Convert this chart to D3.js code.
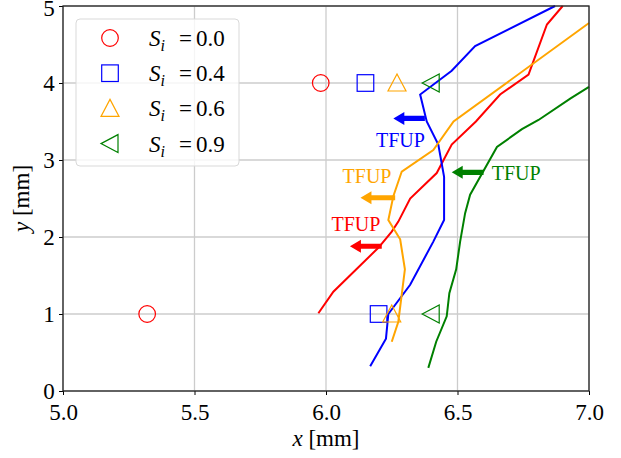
<!DOCTYPE html>
<html>
<head>
<meta charset="utf-8">
<script src="https://d3js.org/d3.v7.min.js"></script>
<style>
  body { margin: 0; background: #fff; }
  text { font-family: "Liberation Serif", "DejaVu Serif", serif; }
</style>
</head>
<body>
<div id="chart"></div>
<script>
var width = 621, height = 458
var margin = {top: 6, right: 32, bottom: 67, left: 63}

// markers at two heights
var markerSeries = [
  {si: "0.0", color: "red",    shape: "circle",   pts: [[5.32, 1], [5.98, 4]]},
  {si: "0.4", color: "blue",   shape: "square",   pts: [[6.20, 1], [6.15, 4]]},
  {si: "0.6", color: "orange", shape: "triangle", pts: [[6.25, 1], [6.27, 4]]},
  {si: "0.9", color: "green",  shape: "left",     pts: [[6.40, 1], [6.40, 4]]}
]

// flame front lines
var redLine = [[5.971,1.01],[6.028,1.29],[6.199,1.86],[6.25,2.07],[6.275,2.2],[6.32,2.5],
  [6.421,2.83],[6.478,3.2],[6.57,3.5],[6.662,3.85],[6.77,4.11],[6.84,4.76],[6.90,5.0]]
var blueLine = [[6.168,0.32],[6.228,0.68],[6.237,1.0],[6.32,1.38],[6.408,1.94],[6.449,2.22],
  [6.449,2.78],[6.427,3.2],[6.383,3.5],[6.358,3.85],[6.478,4.16],[6.567,4.48],[6.871,5.0]]
var orangeLine = [[6.25,0.64],[6.275,0.9],[6.30,1.58],[6.282,1.97],[6.237,2.22],[6.256,2.53],
  [6.288,2.85],[6.408,3.13],[6.485,3.5],[7.0,4.78]]
var greenLine = [[6.389,0.30],[6.419,0.64],[6.459,0.97],[6.469,1.27],[6.495,1.58],[6.51,1.94],
  [6.529,2.31],[6.548,2.55],[6.65,3.17],[6.745,3.40],[6.808,3.52],[6.93,3.8],[7.0,3.95]]

// TFUP labels and arrows: text x,y then arrow tail x, tip x, y
var tfup = [
  {color: "blue",   tx: 6.283, ty: 3.17, ax0: 6.376, ax1: 6.256, ay: 3.54},
  {color: "orange", tx: 6.156, ty: 2.70, ax0: 6.263, ax1: 6.131, ay: 2.51},
  {color: "red",    tx: 6.114, ty: 2.08, ax0: 6.212, ax1: 6.091, ay: 1.88},
  {color: "green",  tx: 6.723, ty: 2.74, ax0: 6.599, ax1: 6.478, ay: 2.84}
]

var xTicks = [5.0, 5.5, 6.0, 6.5, 7.0]
var yTicks = [0, 1, 2, 3, 4, 5]

var svg = d3.select("#chart").append("svg")
  .attr("width", width).attr("height", height)

var x = d3.scaleLinear().domain([5, 7]).range([margin.left, width - margin.right])
var y = d3.scaleLinear().domain([0, 5]).range([height - margin.bottom, margin.top])

// grid
svg.append("g").selectAll("line").data(xTicks).join("line")
  .attr("x1", d => x(d)).attr("x2", d => x(d))
  .attr("y1", y(0)).attr("y2", y(5))
  .attr("stroke", "#cccccc").attr("stroke-width", 1.3)
svg.append("g").selectAll("line").data(yTicks).join("line")
  .attr("x1", x(5)).attr("x2", x(7))
  .attr("y1", d => y(d)).attr("y2", d => y(d))
  .attr("stroke", "#cccccc").attr("stroke-width", 1.3)

var plot = svg.append("g")
var lineGen = d3.line().x(d => x(d[0])).y(d => y(d[1]))
var lines = [[redLine, "red"], [blueLine, "blue"], [orangeLine, "orange"], [greenLine, "green"]]
lines.forEach(function(l) {
  plot.append("path").datum(l[0]).attr("d", lineGen)
    .attr("fill", "none").attr("stroke", l[1]).attr("stroke-width", 2)
})

function drawMarker(g, shape, cx, cy, color) {
  if (shape == "circle") {
    g.append("circle").attr("cx", cx).attr("cy", cy).attr("r", 8.3)
  } else if (shape == "square") {
    g.append("rect").attr("x", cx - 8.3).attr("y", cy - 8.3).attr("width", 16.6).attr("height", 16.6)
  } else if (shape == "triangle") {
    g.append("path").attr("d", "M" + cx + "," + (cy - 9) + "L" + (cx + 9) + "," + (cy + 8) + "L" + (cx - 9) + "," + (cy + 8) + "Z")
  } else {
    g.append("path").attr("d", "M" + (cx - 9) + "," + cy + "L" + (cx + 8) + "," + (cy - 9) + "L" + (cx + 8) + "," + (cy + 9) + "Z")
  }
  g.selectAll("*").attr("fill", "none").attr("stroke", color).attr("stroke-width", 1.2)
}

markerSeries.forEach(function(s) {
  s.pts.forEach(function(p) {
    drawMarker(plot.append("g"), s.shape, x(p[0]), y(p[1]), s.color)
  })
})

// arrows + labels
tfup.forEach(function(t) {
  var x0 = x(t.ax0), x1 = x(t.ax1), yy = y(t.ay)
  var hl = 11, hw = 6.5, sw = 2.6
  var xb = x1 + hl
  plot.append("path")
    .attr("d", "M" + x0 + "," + (yy - sw) + "L" + xb + "," + (yy - sw) + "L" + xb + "," + (yy - hw) +
      "L" + x1 + "," + yy + "L" + xb + "," + (yy + hw) + "L" + xb + "," + (yy + sw) + "L" + x0 + "," + (yy + sw) + "Z")
    .attr("fill", t.color)
  plot.append("text").attr("x", x(t.tx)).attr("y", y(t.ty))
    .attr("text-anchor", "middle").attr("font-size", 20).attr("fill", t.color)
    .text("TFUP")
})

// axes
var xAxis = svg.append("g").attr("transform", "translate(0," + y(0) + ")")
  .call(d3.axisBottom(x).tickValues(xTicks).tickFormat(d3.format(".1f")).tickSizeOuter(0).tickSize(4))
var yAxis = svg.append("g").attr("transform", "translate(" + x(5) + ",0)")
  .call(d3.axisLeft(y).tickValues(yTicks).tickFormat(d3.format("d")).tickSizeOuter(0).tickSize(4))
;[xAxis, yAxis].forEach(function(a) {
  a.select(".domain").remove()
  a.selectAll("line").attr("stroke", "#000").attr("stroke-width", 1)
  a.selectAll("text").attr("font-family", "Liberation Serif").attr("font-size", 23).attr("fill", "#000")
})
xAxis.selectAll("text").attr("dy", "0.95em")
yAxis.selectAll("text").attr("dx", "-0.05em")
yAxis.selectAll(".tick").filter(d => d == 5).select("text").attr("dy", "0.42em")

svg.append("rect").attr("x", x(5)).attr("y", y(5))
  .attr("width", x(7) - x(5)).attr("height", y(0) - y(5))
  .attr("fill", "none").attr("stroke", "#222").attr("stroke-width", 1.3)

svg.append("text").attr("x", (x(5) + x(7)) / 2).attr("y", 446)
  .attr("text-anchor", "middle").attr("font-size", 23)
  .html('<tspan font-style="italic">x</tspan> [mm]')
svg.append("text").attr("transform", "translate(29," + ((y(0) + y(5)) / 2) + ") rotate(-90)")
  .attr("text-anchor", "middle").attr("font-size", 23)
  .html('<tspan font-style="italic">y</tspan> [mm]')

// legend
var leg = svg.append("g")
leg.append("rect").attr("x", 76).attr("y", 19).attr("width", 163).attr("height", 147)
  .attr("rx", 4).attr("fill", "white").attr("fill-opacity", 0.8)
  .attr("stroke", "#d9d9d9").attr("stroke-width", 1)
markerSeries.forEach(function(s, i) {
  var cy = 38 + i * 35.2
  drawMarker(leg.append("g"), s.shape, 110, cy, s.color)
  var t = leg.append("text").attr("y", cy + 8).attr("font-size", 23).attr("fill", "#000")
  t.append("tspan").attr("x", 149).attr("font-style", "italic").text("S")
  t.append("tspan").attr("font-style", "italic").attr("font-size", 16).attr("dy", 5).text("i")
  t.append("tspan").attr("x", 179).attr("y", cy + 8).text("=")
  t.append("tspan").attr("x", 196).text(s.si)
})
</script>
</body>
</html>
